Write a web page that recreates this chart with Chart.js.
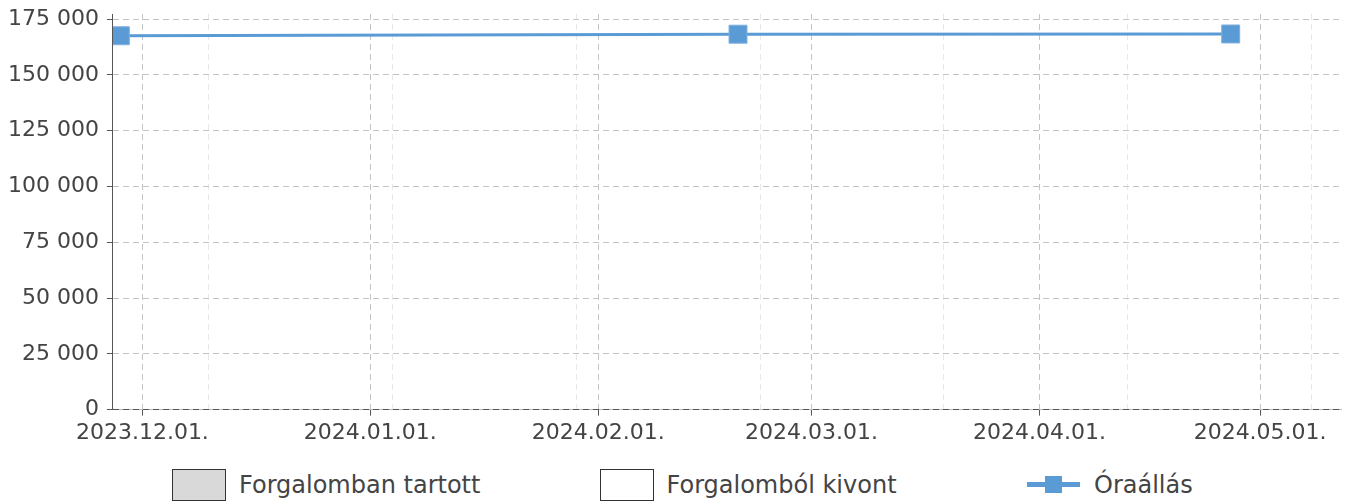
<!DOCTYPE html>
<html>
<head>
<meta charset="utf-8">
<script src="https://cdn.jsdelivr.net/npm/chart.js@4.4.1/dist/chart.umd.min.js"></script>
<style>
  body { margin: 0; background: #fff; font-family: 'DejaVu Sans', sans-serif; }
  #wrap { position: relative; width: 1348px; height: 504px; }
  #chartBox { position: absolute; left: 0; top: 0; width: 1348px; height: 450px; }
  #legend { position: absolute; left: 172px; top: 468px; display: flex; }
  .item { width: 427.5px; height: 33px; display: flex; align-items: center; color: #444; font-size: 24px; }
  .box { width: 52px; height: 30px; border: 1.5px solid #333; margin-right: 13px; }
  .line { position: relative; width: 53px; height: 5px; background: #5b9bd5; margin-right: 14px; }
  .line::after { content: ''; position: absolute; left: 18px; top: -6px; width: 17px; height: 17px; background: #5b9bd5; }
</style>
</head>
<body>
<div id="wrap">
  <div id="chartBox"><canvas id="meterChart"></canvas></div>
  <div id="legend">
    <div class="item"><span class="box" style="background:#d9d9d9"></span>Forgalomban tartott</div>
    <div class="item"><span class="box" style="background:#fff"></span>Forgalomból kivont</div>
    <div class="item"><span class="line"></span>Óraállás</div>
  </div>
</div>
<script>
// readings (date -> meter value)
const readDates = ['2023-11-28', '2024-02-20', '2024-04-27'];
const readValues = [167500, 168200, 168300];

// axis ticks
const monthTicks = ['2023-12-01', '2024-01-01', '2024-02-01', '2024-03-01', '2024-04-01', '2024-05-01'];
const minorTicks = ['2023-12-10', '2024-01-04', '2024-01-29', '2024-02-23', '2024-03-19', '2024-04-13', '2024-05-08'];
const yTicks = [0, 25000, 50000, 75000, 100000, 125000, 150000, 175000];
const xRange = ['2023-11-27', '2024-05-12'];
const yMax = 177250;

const toMs = s => Date.parse(s + 'T00:00:00Z');
const majorSet = new Set(monthTicks.map(toMs));

function fmtDate(ms) {
  const d = new Date(ms);
  const mm = String(d.getUTCMonth() + 1).padStart(2, '0');
  const dd = String(d.getUTCDate()).padStart(2, '0');
  return `${d.getUTCFullYear()}.${mm}.${dd}.`;
}

function fmtNum(v) {
  return String(v).replace(/\B(?=(\d{3})+(?!\d))/g, ' ');
}

Chart.defaults.font.family = "'DejaVu Sans', sans-serif";
Chart.defaults.font.size = 22;
Chart.defaults.color = '#444';

const ctx = document.getElementById('meterChart').getContext('2d');

new Chart(ctx, {
  type: 'line',
  data: {
    datasets: [{
      label: 'Óraállás',
      data: readDates.map((d, i) => ({ x: toMs(d), y: readValues[i] })),
      borderColor: '#5b9bd5',
      backgroundColor: '#5b9bd5',
      borderWidth: 3,
      pointStyle: 'rect',
      pointRadius: 12.7,
      pointBorderWidth: 1,
      pointBorderColor: '#7fb0de',
      tension: 0,
      fill: false
    }]
  },
  options: {
    responsive: true,
    maintainAspectRatio: false,
    animation: false,
    layout: { autoPadding: false, padding: { left: 0, right: 7, top: 14, bottom: 0 } },
    plugins: { legend: { display: false }, tooltip: { enabled: false } },
    scales: {
      x: {
        type: 'linear',
        min: toMs(xRange[0]),
        max: toMs(xRange[1]),
        afterBuildTicks: scale => {
          scale.ticks = [...monthTicks, ...minorTicks].map(toMs).sort((a, b) => a - b).map(v => ({ value: v }));
        },
        ticks: {
          autoSkip: false,
          maxRotation: 0,
          padding: 4,
          callback: v => majorSet.has(v) ? fmtDate(v) : ''
        },
        grid: {
          color: c => (c.tick && majorSet.has(c.tick.value)) ? '#c4c4c4' : '#e8e8e8',
          tickColor: c => (c.tick && majorSet.has(c.tick.value)) ? '#555' : 'rgba(0,0,0,0)',
          tickLength: 6
        },
        border: { color: '#bbb', width: 1, dash: [6, 4] }
      },
      y: {
        min: 0,
        max: yMax,
        afterBuildTicks: scale => {
          scale.ticks = yTicks.map(v => ({ value: v }));
        },
        afterFit: scale => {
          // top label may overflow into the layout padding
          scale.paddingTop = 0;
        },
        ticks: {
          padding: 8,
          callback: v => fmtNum(v)
        },
        grid: {
          color: c => (c.tick && c.tick.value === 0) ? '#555' : '#c4c4c4',
          tickColor: '#555',
          tickLength: 6,
          z: 1
        },
        border: { color: '#555', width: 1, dash: [6, 4], z: 1 }
      }
    }
  }
});
</script>
</body>
</html>
